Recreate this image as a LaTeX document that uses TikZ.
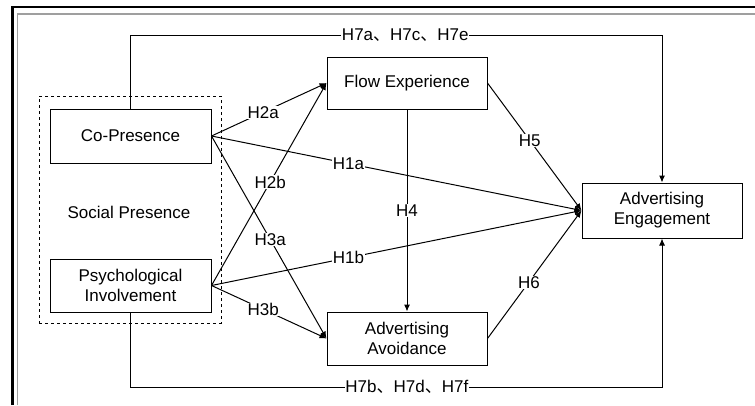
\documentclass[tikz,border=0pt]{standalone}
\usepackage{fontspec}
\setmainfont{Liberation Sans}
\newfontfamily\cjk{Noto Sans CJK SC}
\usetikzlibrary{arrows.meta}
\begin{document}
\begin{tikzpicture}[x=1pt,y=-1pt,
  font=\fontsize{17}{20}\selectfont,
  box/.style={draw,line width=1pt,align=center,inner sep=0pt},
  lab/.style={fill=white,inner sep=0.6pt},
  arr/.style={line width=1pt,-{Latex[length=7pt,width=6pt]}},
  ln/.style={line width=1pt}]
\useasboundingbox (0,0) rectangle (755,405);
\fill[white] (0,0) rectangle (755,405);
% frame
\draw[line width=2.5pt] (12.5,405) -- (12.5,7) -- (755,7);
\draw[gray!75,line width=1.8pt] (17.5,405) -- (17.5,14) -- (755,14);
% nodes
\node[draw,dashed,line width=0.9pt,minimum width=182pt,minimum height=227pt,inner sep=0pt] (sp) at (130,209.5) {};
\node (spt) at (129,212) {Social Presence};
\node[box,minimum width=161pt,minimum height=54pt] (co) at (130.5,136) {Co-Presence};
\node[box,minimum width=161pt,minimum height=53pt] (pi) at (130.5,285.5) {Psychological\\Involvement};
\node[box,minimum width=160pt,minimum height=52pt] (fl) at (407,83) {Flow Experience};
\node[box,minimum width=160pt,minimum height=53pt] (av) at (407,338.5) {Advertising\\Avoidance};
\node[box,minimum width=160pt,minimum height=55pt] (en) at (662,210.5) {Advertising\\Engagement};
\coordinate (t1) at (130,35);
\coordinate (b1) at (130,387);
% connectors
\draw[arr] (co.east) -- node[lab,pos=0.45]{H2a} (fl.west);
\draw[arr] (co.east) -- node[lab,pos=0.37]{H1a} (en.west);
\draw[arr] (co.east) -- node[lab,pos=0.51]{H3a} (av.west);
\draw[arr] (pi.east) -- node[lab,pos=0.51]{H2b} (fl.west);
\draw[arr] (pi.east) -- node[lab,pos=0.37]{H1b} (en.west);
\draw[arr] (pi.east) -- node[lab,pos=0.45]{H3b} (av.west);
\draw[arr] (fl.south) -- node[lab,pos=0.5]{H4} (av.north);
\draw[arr] (fl.east) -- node[lab,pos=0.45]{H5} (en.west);
\draw[arr] (av.east) -- node[lab,pos=0.44]{H6} (en.west);
\draw[arr] (co.north) -- (co.north |- t1) -- node[lab,pos=0.517]{H7a{\cjk 、}H7c{\cjk 、}H7e} (en.north |- t1) -- (en.north);
\draw[arr] (pi.south) -- (pi.south |- b1) -- node[lab,pos=0.52]{H7b{\cjk 、}H7d{\cjk 、}H7f} (en.south |- b1) -- (en.south);
\end{tikzpicture}
\end{document}
